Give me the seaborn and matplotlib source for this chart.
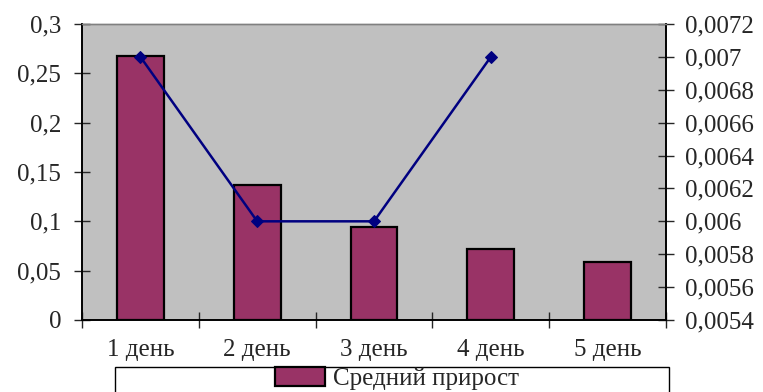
import matplotlib
matplotlib.use("Agg")
import matplotlib.pyplot as plt
import matplotlib.patches as mpatches
from matplotlib.ticker import FixedLocator, FuncFormatter
import seaborn as sns

days = ["1 день", "2 день", "3 день", "4 день", "5 день"]
avg_growth = [0.268, 0.137, 0.094, 0.072, 0.059]
line_days = [0, 1, 2, 3]
line_vals = [0.007, 0.006, 0.006, 0.007]
legend_label = "Средний прирост"


def comma_fmt(v, pos=None):
    s = f"{v:.4f}".rstrip("0").rstrip(".")
    return s.replace(".", ",")


sns.set_style("white")
plt.rcParams["font.family"] = ["Liberation Serif", "DejaVu Serif"]
fs = 18

fig, ax = plt.subplots(figsize=(7.63, 3.92), dpi=100)
fig.subplots_adjust(left=0.1075, right=0.8729, top=0.9388, bottom=0.1837)
ax.set_facecolor("#C0C0C0")

bar_color = "#993366"
sns.barplot(x=days, y=avg_growth, color=bar_color, edgecolor="black",
            linewidth=1.6, width=0.4, saturation=1, ax=ax)
ax.set_xlim(-0.5, 4.5)
ax.set_ylim(0, 0.3)
ax.yaxis.set_major_locator(FixedLocator([0, 0.05, 0.1, 0.15, 0.2, 0.25, 0.3]))
ax.yaxis.set_major_formatter(FuncFormatter(comma_fmt))
ax.tick_params(axis="y", direction="inout", length=12, width=1, pad=9,
               labelsize=fs, left=True)
ax.tick_params(axis="x", which="major", length=0, pad=14, labelsize=fs)
ax.xaxis.set_minor_locator(FixedLocator([-0.5, 0.5, 1.5, 2.5, 3.5, 4.5]))
ax.tick_params(axis="x", which="minor", direction="inout", length=12,
               width=1, bottom=True)

ax2 = ax.twinx()
sns.lineplot(x=line_days, y=line_vals, color="#000080", marker="D",
             markersize=6, markeredgecolor="#000080", linewidth=1.8, ax=ax2)
ax2.set_ylim(0.0054, 0.0072)
ax2.yaxis.set_major_locator(FixedLocator([0.0054 + 0.0002 * i for i in range(10)]))
ax2.yaxis.set_major_formatter(FuncFormatter(comma_fmt))
ax2.tick_params(axis="y", direction="inout", length=11, width=1, pad=8,
                labelsize=fs, right=True)

for a in (ax, ax2):
    for side in ("left", "right", "bottom"):
        a.spines[side].set_color("black")
        a.spines[side].set_linewidth(1.2)
    a.spines["top"].set_color("#808080")
    a.spines["top"].set_linewidth(1)
ax.set_xlabel("")
ax.set_ylabel("")
ax2.set_ylabel("")

# legend box, running off the bottom edge like the original
fig.patches.append(mpatches.Rectangle((115 / 763, -0.05), (669 - 115) / 763,
                                      0.05 + (392 - 367) / 392,
                                      transform=fig.transFigure,
                                      facecolor="white", edgecolor="black",
                                      linewidth=1))
handle = mpatches.Patch(facecolor=bar_color, edgecolor="black", linewidth=1.6)
fig.legend([handle], [legend_label], loc="upper center",
           bbox_to_anchor=(397 / 763, 1 - 367 / 392), frameon=False,
           fontsize=fs, handlelength=2.0, handleheight=0.8, handletextpad=0.3,
           borderaxespad=0, borderpad=0)

fig.savefig("out.png", dpi=100)
